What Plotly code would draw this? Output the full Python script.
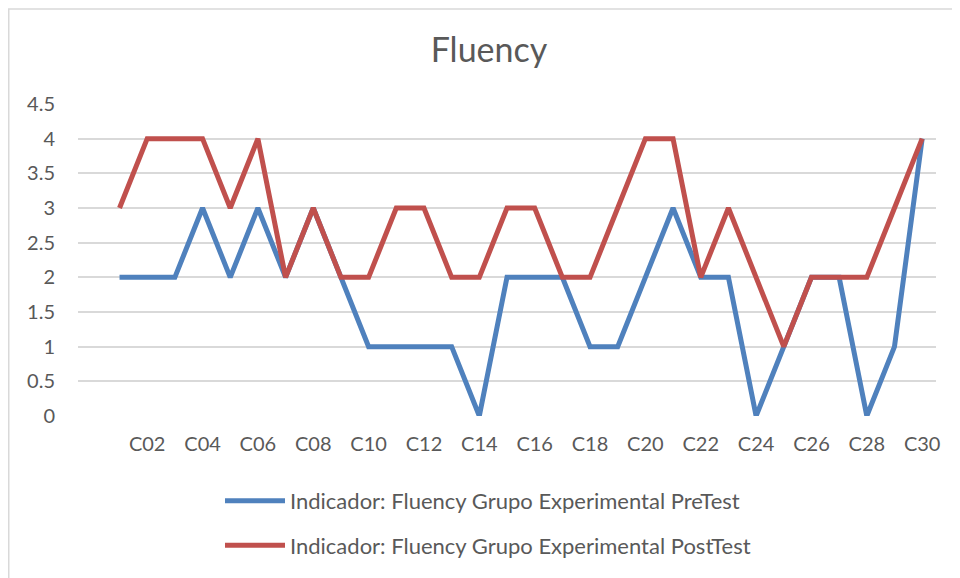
import plotly.graph_objects as go

categories = [f"C{i:02d}" for i in range(1, 31)]
pre_test = [2, 2, 2, 3, 2, 3, 2, 3, 2, 1, 1, 1, 1, 0, 2, 2, 2, 1, 1, 2,
            3, 2, 2, 0, 1, 2, 2, 0, 1, 4]
post_test = [3, 4, 4, 4, 3, 4, 2, 3, 2, 2, 3, 3, 2, 2, 3, 3, 2, 2, 3, 4,
             4, 2, 3, 2, 1, 2, 2, 2, 3, 4]
tick_labels = categories[1::2]
y_ticks = [0, 0.5, 1, 1.5, 2, 2.5, 3, 3.5, 4, 4.5]

font_family = "Lato, 'Open Sans', sans-serif"
text_gray = "#595959"

fig = go.Figure()

fig.add_trace(
    go.Scatter(
        x=categories,
        y=pre_test,
        mode="lines",
        name="Indicador: Fluency Grupo Experimental PreTest",
        legendgroup="pre",
        line=dict(color="#4F81BD", width=5),
    )
)
fig.add_trace(
    go.Scatter(
        x=categories,
        y=post_test,
        mode="lines",
        name="Indicador: Fluency Grupo Experimental PostTest",
        legendgroup="post",
        line=dict(color="#C0504D", width=5),
    )
)

# chart border
fig.add_shape(
    type="rect",
    xref="paper", yref="paper",
    x0=-0.0807, x1=1.2,
    y0=-0.6, y1=1.3043,
    line=dict(color="#D9D9D9", width=1.5),
    layer="below",
)

fig.update_layout(
    width=952,
    height=570,
    paper_bgcolor="white",
    plot_bgcolor="white",
    font=dict(family=font_family, color=text_gray),
    title=dict(
        text="Fluency",
        x=481 / 952, xref="container", xanchor="center",
        y=1 - 42 / 570, yref="container", yanchor="middle",
        font=dict(size=34, color=text_gray),
    ),
    xaxis=dict(
        type="category",
        categoryorder="array",
        categoryarray=categories,
        range=[-1.5, 29.5],
        tickmode="array",
        tickvals=tick_labels,
        ticktext=tick_labels,
        showgrid=False,
        showline=False,
        ticks="",
        ticklabelstandoff=14,
        tickfont=dict(size=20, color=text_gray),
        zeroline=False,
    ),
    yaxis=dict(
        range=[0, 4.5],
        tickmode="array",
        tickvals=y_ticks,
        ticktext=[f"{v:g}" for v in y_ticks],
        showgrid=True,
        gridcolor="#D9D9D9",
        gridwidth=1.5,
        zeroline=False,
        showline=False,
        ticks="",
        ticklabelstandoff=22,
        tickfont=dict(size=20, color=text_gray),
    ),
    legend=dict(
        x=0.1655, xanchor="left",
        y=-0.201, yanchor="top",
        orientation="v",
        font=dict(size=22, color=text_gray),
        itemwidth=60,
        tracegroupgap=13,
        bgcolor="rgba(0,0,0,0)",
    ),
    showlegend=True,
    margin=dict(l=70, r=24, t=96, b=161),
)

fig.write_html("out.html")
